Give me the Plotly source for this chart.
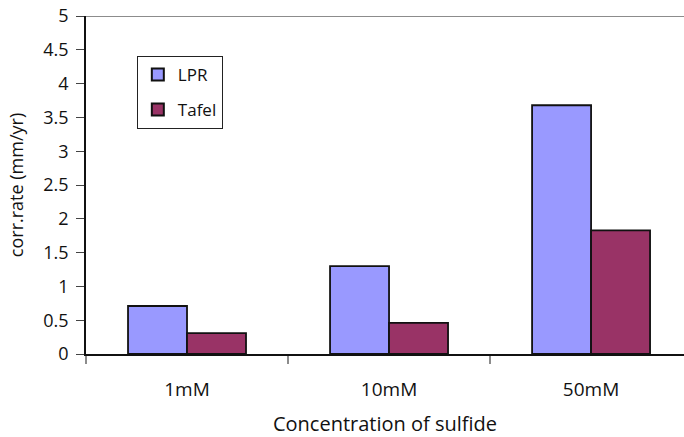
import plotly.graph_objects as go

categories = ["1mM", "10mM", "50mM"]
lpr = [0.71, 1.30, 3.68]
tafel = [0.31, 0.46, 1.83]
y_ticks = [0, 0.5, 1, 1.5, 2, 2.5, 3, 3.5, 4, 4.5, 5]
y_tick_text = ["0", "0.5", "1", "1.5", "2", "2.5", "3", "3.5", "4", "4.5", "5"]

FONT = "'Open Sans', Lato, sans-serif"

fig = go.Figure()
fig.add_trace(go.Bar(
    name="LPR", x=categories, y=lpr, legendgroup="lpr",
    marker=dict(color="#9999FF", line=dict(color="#111111", width=1.8)),
))
fig.add_trace(go.Bar(
    name="Tafel", x=categories, y=tafel, legendgroup="tafel",
    marker=dict(color="#993366", line=dict(color="#111111", width=1.8)),
))

# gray line across the top of the plot at the axis maximum
fig.add_shape(type="line", xref="paper", yref="y", x0=0, x1=1, y0=5, y1=5,
              line=dict(color="#8C8C8C", width=2), layer="below")

fig.update_layout(
    width=684, height=437,
    margin=dict(l=86, r=0, t=16, b=83),
    paper_bgcolor="white", plot_bgcolor="white",
    barmode="group", bargap=0.416, bargroupgap=0,
    font=dict(family=FONT, size=17, color="#111111"),
    showlegend=True,
    legend=dict(
        x=0.085, y=0.882, xanchor="left", yanchor="top",
        bordercolor="#222222", borderwidth=1, bgcolor="white",
        font=dict(size=17), itemsizing="constant", itemwidth=30,
        traceorder="grouped", tracegroupgap=10,
    ),
    xaxis=dict(
        type="category", range=[-0.5, 2.46],
        showline=True, linecolor="#111111", linewidth=1.5,
        ticks="outside", tickson="boundaries", ticklen=8, tickcolor="#8C8C8C", tickwidth=1.5,
        ticklabelstandoff=17, tickfont=dict(size=19),
        title=dict(text="Concentration of sulfide", font=dict(size=20), standoff=20),
        showgrid=False, zeroline=False,
    ),
    yaxis=dict(
        range=[0, 5], tickvals=y_ticks, ticktext=y_tick_text,
        showline=True, linecolor="#111111", linewidth=1.5,
        ticks="outside", ticklen=8, tickcolor="#444444", tickwidth=1.2,
        ticklabelstandoff=4, tickfont=dict(size=18),
        title=dict(text="corr.rate (mm/yr)", font=dict(size=18), standoff=15),
        showgrid=False, zeroline=False,
    ),
)

fig.write_html("out.html")
